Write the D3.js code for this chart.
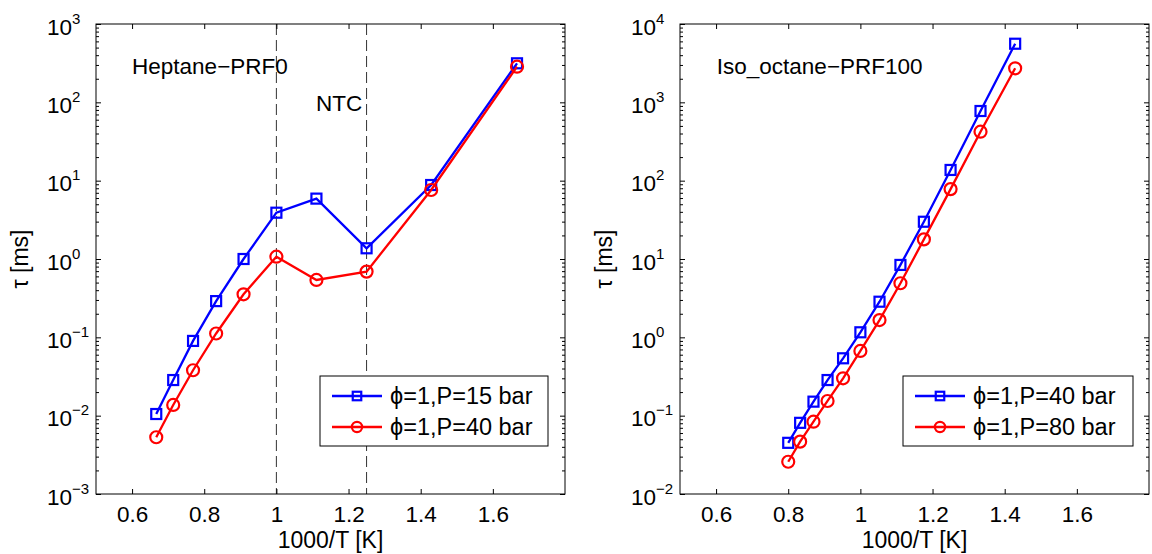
<!DOCTYPE html>
<html>
<head>
<meta charset="utf-8">
<script src="https://cdn.jsdelivr.net/npm/d3@7"></script>
<style>
  body { margin: 0; background: #fff; }
  text { font-family: "Liberation Sans", Arial, Helvetica, sans-serif; fill: #000; }
</style>
</head>
<body>
<svg id="fig" width="1152" height="554"></svg>
<script>
// ---- data ----
const xTickValues = [0.6, 0.8, 1.0, 1.2, 1.4, 1.6];

// n-heptane (PRF0): 1000/T [1/K] and ignition delay [ms]
const heptaneInvT = [0.667, 0.714, 0.769, 0.833, 0.909, 1.0, 1.111, 1.25, 1.429, 1.667];
const heptaneTau15bar = [0.0105, 0.0285, 0.09, 0.29, 1.0, 3.9, 5.9, 1.37, 8.8, 315];
const heptaneTau40bar = [0.0053, 0.0137, 0.038, 0.112, 0.354, 1.07, 0.54, 0.69, 7.6, 285];
const ntcBounds = [1.0, 1.25];

// iso-octane (PRF100)
const isoInvT = [0.8, 0.833, 0.870, 0.909, 0.952, 1.0, 1.053, 1.111, 1.176, 1.25, 1.333, 1.429];
const isoTau40bar = [0.045, 0.081, 0.151, 0.285, 0.54, 1.16, 2.85, 8.4, 29.9, 137, 775, 5600];
const isoTau80bar = [0.0258, 0.0466, 0.0838, 0.154, 0.30, 0.67, 1.66, 4.9, 17.8, 78, 422, 2720];

const heptaneLegend = ["\u03D5=1,P=15 bar", "\u03D5=1,P=40 bar"];
const isoLegend = ["\u03D5=1,P=40 bar", "\u03D5=1,P=80 bar"];

const BLUE = "#0000ff", RED = "#ff0000";
const svg = d3.select("#fig");

function drawPanel(p) {
  const x = d3.scaleLinear().domain([0.5, 1.8]).range([p.left, p.right]);
  const y = d3.scaleLog().domain(p.yDomain).range([p.bottom, p.top]);
  const g = svg.append("g");

  const lo = Math.round(Math.log10(p.yDomain[0])), hi = Math.round(Math.log10(p.yDomain[1]));
  const decades = d3.range(lo, hi + 1).map(e => Math.pow(10, e));
  const minors = [];
  for (let e = lo; e < hi; e++) for (let k = 2; k <= 9; k++) minors.push(k * Math.pow(10, e));

  // reference lines (NTC region)
  (p.vlines || []).forEach(v => {
    g.append("line")
      .attr("x1", x(v)).attr("x2", x(v))
      .attr("y1", p.top).attr("y2", p.bottom)
      .attr("stroke", "#333").attr("stroke-width", 1)
      .attr("stroke-dasharray", "11,5");
  });

  const tickStyle = sel => {
    sel.select(".domain").remove();
    sel.selectAll(".tick line").attr("stroke", "#000").attr("stroke-width", 1);
  };

  // x axes (bottom with labels, top without)
  g.append("g").attr("transform", `translate(0,${p.bottom})`)
    .call(d3.axisBottom(x).tickValues(xTickValues).tickSizeInner(-5).tickSizeOuter(0)
      .tickFormat(d => d3.format("~g")(d)))
    .call(tickStyle)
    .call(s => s.selectAll(".tick text").attr("y", 28).attr("dy", 0)
      .style("font-size", "22.5px").style("font-family", "Liberation Sans, Arial, sans-serif"));
  g.append("g").attr("transform", `translate(0,${p.top})`)
    .call(d3.axisTop(x).tickValues(xTickValues).tickSizeInner(-5).tickSizeOuter(0).tickFormat(""))
    .call(tickStyle);

  // y axes: major + minor ticks on both sides
  const yl = g.append("g").attr("transform", `translate(${p.left},0)`)
    .call(d3.axisLeft(y).tickValues(decades).tickSizeInner(-5).tickSizeOuter(0).tickFormat(""))
    .call(tickStyle);
  g.append("g").attr("transform", `translate(${p.left},0)`)
    .call(d3.axisLeft(y).tickValues(minors).tickSizeInner(-3).tickSizeOuter(0).tickFormat(""))
    .call(tickStyle);
  g.append("g").attr("transform", `translate(${p.right},0)`)
    .call(d3.axisRight(y).tickValues(decades).tickSizeInner(-5).tickSizeOuter(0).tickFormat(""))
    .call(tickStyle);
  g.append("g").attr("transform", `translate(${p.right},0)`)
    .call(d3.axisRight(y).tickValues(minors).tickSizeInner(-3).tickSizeOuter(0).tickFormat(""))
    .call(tickStyle);

  // decade labels 10^n
  yl.selectAll(".tick").each(function(d) {
    const t = d3.select(this).append("text").attr("x", -49).attr("y", 10)
      .attr("text-anchor", "start").style("font-size", "22.5px");
    t.append("tspan").text("10");
    const e = Math.round(Math.log10(d));
    t.append("tspan").attr("dy", -11).style("font-size", "15px")
      .text(e < 0 ? "\u2212" + (-e) : String(e));
  });

  // axes box
  g.append("rect").attr("x", p.left).attr("y", p.top)
    .attr("width", p.right - p.left).attr("height", p.bottom - p.top)
    .attr("fill", "none").attr("stroke", "#000").attr("stroke-width", 1);

  // series
  const line = d3.line().x(d => x(d[0])).y(d => y(d[1]));
  p.series.forEach(s => {
    const pts = d3.zip(p.xs, s.values);
    g.append("path").datum(pts).attr("d", line)
      .attr("fill", "none").attr("stroke", s.color).attr("stroke-width", 2.3);
    drawMarkers(g, pts.map(d => [x(d[0]), y(d[1])]), s, 1);
  });

  // annotations
  g.append("text").attr("x", x(p.titleX)).attr("y", 74).style("font-size", "22.5px").text(p.title);
  (p.notes || []).forEach(n => {
    g.append("text").attr("x", x(n.x)).attr("y", n.y).style("font-size", "22.5px").text(n.text);
  });

  // axis labels
  g.append("text").attr("x", (p.left + p.right) / 2).attr("y", 548)
    .attr("text-anchor", "middle").style("font-size", "23px").text("1000/T [K]");
  g.append("text").attr("transform", `translate(${p.left - 68},${(p.top + p.bottom) / 2}) rotate(-90)`)
    .attr("text-anchor", "middle").style("font-size", "23px").text("\u03C4 [ms]");

  // legend
  const lg = g.append("g");
  lg.append("rect").attr("x", p.legend.x).attr("y", 376)
    .attr("width", p.legend.w).attr("height", 70)
    .attr("fill", "#fff").attr("stroke", "#000").attr("stroke-width", 1);
  p.series.forEach((s, i) => {
    const cy = 396 + i * 31;
    const lx0 = p.legend.x + 12, lx1 = lx0 + 50;
    lg.append("line").attr("x1", lx0).attr("x2", lx1).attr("y1", cy).attr("y2", cy)
      .attr("stroke", s.color).attr("stroke-width", 2.3);
    drawMarkers(lg, [[(lx0 + lx1) / 2, cy]], s, 0.85);
    lg.append("text").attr("x", lx1 + 8).attr("y", cy + 8).style("font-size", "23.5px").text(p.labels[i]);
  });
}

function drawMarkers(g, pts, s, k) {
  if (s.marker === "square") {
    const h = 5 * k;
    g.selectAll(null).data(pts).enter().append("rect")
      .attr("x", d => d[0] - h).attr("y", d => d[1] - h)
      .attr("width", 2 * h).attr("height", 2 * h)
      .attr("fill", "none").attr("stroke", s.color).attr("stroke-width", 2.2);
  } else {
    g.selectAll(null).data(pts).enter().append("circle")
      .attr("cx", d => d[0]).attr("cy", d => d[1]).attr("r", 6 * k)
      .attr("fill", "none").attr("stroke", s.color).attr("stroke-width", 2.2);
  }
}

drawPanel({
  left: 96, right: 565, top: 24, bottom: 494,
  yDomain: [1e-3, 1e3],
  xs: heptaneInvT,
  series: [
    { values: heptaneTau15bar, color: BLUE, marker: "square" },
    { values: heptaneTau40bar, color: RED, marker: "circle" }
  ],
  labels: heptaneLegend,
  vlines: ntcBounds,
  title: "Heptane\u2212PRF0", titleX: 0.6,
  notes: [{ text: "NTC", x: 1.11, y: 111 }],
  legend: { x: 320, w: 228 }
});

drawPanel({
  left: 680, right: 1149, top: 24, bottom: 494,
  yDomain: [1e-2, 1e4],
  xs: isoInvT,
  series: [
    { values: isoTau40bar, color: BLUE, marker: "square" },
    { values: isoTau80bar, color: RED, marker: "circle" }
  ],
  labels: isoLegend,
  title: "Iso_octane\u2212PRF100", titleX: 0.602,
  legend: { x: 903, w: 230 }
});
</script>
</body>
</html>
